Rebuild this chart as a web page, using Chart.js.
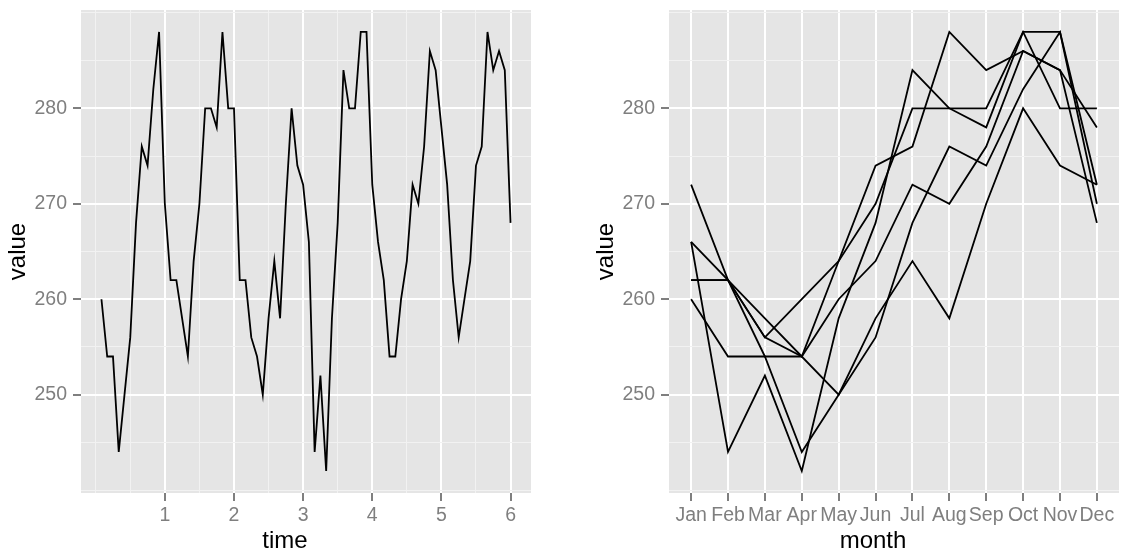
<!DOCTYPE html>
<html>
<head>
<meta charset="utf-8">
<script src="https://cdn.jsdelivr.net/npm/chart.js@4.4.1/dist/chart.umd.min.js"></script>
<style>
  html, body { margin: 0; padding: 0; background: #fff; }
  #wrap { position: relative; width: 1124px; height: 551px; }
  .panel { position: absolute; top: 0; width: 562px; height: 551px; }
  canvas { display: block; }
</style>
</head>
<body>
<div id="wrap">
  <div class="panel" style="left:0"><canvas id="timeChart" width="562" height="551"></canvas></div>
  <div class="panel" style="left:562px"><canvas id="monthChart" width="562" height="551"></canvas></div>
</div>
<script>
// values, one array per year (Jan..Dec)
const months = ['Jan', 'Feb', 'Mar', 'Apr', 'May', 'Jun', 'Jul', 'Aug', 'Sep', 'Oct', 'Nov', 'Dec'];
const year1 = [260, 254, 254, 244, 250, 256, 268, 276, 274, 282, 288, 270];
const year2 = [262, 262, 258, 254, 264, 270, 280, 280, 278, 288, 280, 280];
const year3 = [262, 262, 256, 254, 250, 258, 264, 258, 270, 280, 274, 272];
const year4 = [266, 244, 252, 242, 258, 268, 284, 280, 280, 288, 288, 272];
const year5 = [266, 262, 254, 254, 260, 264, 272, 270, 276, 286, 284, 278];
const year6 = [272, 262, 256, 260, 264, 274, 276, 288, 284, 286, 284, 268];
const years = [year1, year2, year3, year4, year5, year6];

// axis breaks
const timeTicks = [1, 2, 3, 4, 5, 6];
const timeMinor = [0, 0.5, 1.5, 2.5, 3.5, 4.5, 5.5];
const valueTicks = [250, 260, 270, 280];
const valueMinor = [240, 245, 255, 265, 275, 285, 290];
const timeRange = [-0.2125, 6.2958];
const monthRange = [-0.6, 11.6];
const valueRange = [239.7, 290.3];

const GREY_TXT = '#7F7F7F';
const FONT = '"Liberation Sans", Arial, Helvetica, sans-serif';
const tickFont = { family: FONT, size: 19.5, lineHeight: 1 };

// time series: year k, month m -> k + (m+1)/12
const timeSeries = [];
years.forEach((vals, k) => {
  vals.forEach((v, m) => timeSeries.push({ x: k + (m + 1) / 12, y: v }));
});

const panelBg = {
  id: 'panelBg',
  beforeDraw(chart) {
    const { ctx, chartArea: a } = chart;
    ctx.save();
    ctx.fillStyle = '#E5E5E5';
    ctx.fillRect(a.left, a.top, a.right - a.left, a.bottom - a.top);
    ctx.restore();
  }
};

// ggplot-like axis titles
const ggTitles = {
  id: 'ggTitles',
  afterDraw(chart, args, opts) {
    const { ctx, chartArea: a } = chart;
    ctx.save();
    ctx.fillStyle = '#000';
    ctx.font = '24px ' + FONT;
    ctx.textAlign = 'center';
    ctx.textBaseline = 'alphabetic';
    ctx.fillText(opts.x, (a.left + a.right) / 2 - 21, 548);
    ctx.translate(a.left - 56, (a.top + a.bottom) / 2);
    ctx.rotate(-Math.PI / 2);
    ctx.fillText(opts.y, 0, 0);
    ctx.restore();
  }
};

function gridStyle(major) {
  const isMajor = c => major.includes(c.tick.value);
  return {
    color: c => isMajor(c) ? '#FFFFFF' : '#F2F2F2',
    lineWidth: c => isMajor(c) ? 2 : 1,
    tickColor: c => isMajor(c) ? GREY_TXT : 'rgba(0,0,0,0)',
    tickWidth: 2,
    tickLength: 8
  };
}

function yScale(width) {
  return {
    type: 'linear',
    min: valueRange[0],
    max: valueRange[1],
    afterBuildTicks: s => { s.ticks = valueMinor.concat(valueTicks).sort((a, b) => a - b).map(v => ({ value: v })); },
    afterFit: s => { s.width = width; s.paddingTop = 0; s.paddingBottom = 0; },
    ticks: {
      autoSkip: false, color: GREY_TXT, font: tickFont, padding: 6,
      callback: v => valueTicks.includes(v) ? String(v) : ''
    },
    grid: gridStyle(valueTicks),
    border: { display: false }
  };
}

function xFit(s) {
  s.height = 58;
  s.paddingLeft = 0;
  s.paddingRight = 0;
}

const lineStyle = { borderColor: '#000', borderWidth: 1.8, pointRadius: 0, tension: 0, fill: false };

new Chart(document.getElementById('timeChart'), {
  type: 'line',
  data: { datasets: [Object.assign({ data: timeSeries }, lineStyle)] },
  options: {
    responsive: false,
    animation: false,
    layout: { padding: { top: 10, right: 31, bottom: 0, left: 0 } },
    plugins: { legend: { display: false }, tooltip: { enabled: false }, ggTitles: { x: 'time', y: 'value' } },
    scales: {
      x: {
        type: 'linear',
        min: timeRange[0],
        max: timeRange[1],
        afterBuildTicks: s => { s.ticks = timeMinor.concat(timeTicks).sort((a, b) => a - b).map(v => ({ value: v })); },
        afterFit: xFit,
        ticks: {
          autoSkip: false, maxRotation: 0, color: GREY_TXT, font: tickFont, padding: 5,
          callback: v => timeTicks.includes(v) ? String(v) : ''
        },
        grid: gridStyle(timeTicks),
        border: { display: false }
      },
      y: yScale(81)
    }
  },
  plugins: [panelBg, ggTitles]
});

const monthIdx = months.map((m, i) => i);
new Chart(document.getElementById('monthChart'), {
  type: 'line',
  data: {
    datasets: years.map(vals => Object.assign({ data: vals.map((v, i) => ({ x: i, y: v })) }, lineStyle))
  },
  options: {
    responsive: false,
    animation: false,
    layout: { padding: { top: 10, right: 5, bottom: 0, left: 0 } },
    plugins: { legend: { display: false }, tooltip: { enabled: false }, ggTitles: { x: 'month', y: 'value' } },
    scales: {
      x: {
        type: 'linear',
        min: monthRange[0],
        max: monthRange[1],
        afterBuildTicks: s => { s.ticks = monthIdx.map(v => ({ value: v })); },
        afterFit: xFit,
        ticks: {
          autoSkip: false, maxRotation: 0, color: GREY_TXT, font: tickFont, padding: 5,
          callback: v => months[v]
        },
        grid: gridStyle(monthIdx),
        border: { display: false }
      },
      y: yScale(107)
    }
  },
  plugins: [panelBg, ggTitles]
});
</script>
</body>
</html>
